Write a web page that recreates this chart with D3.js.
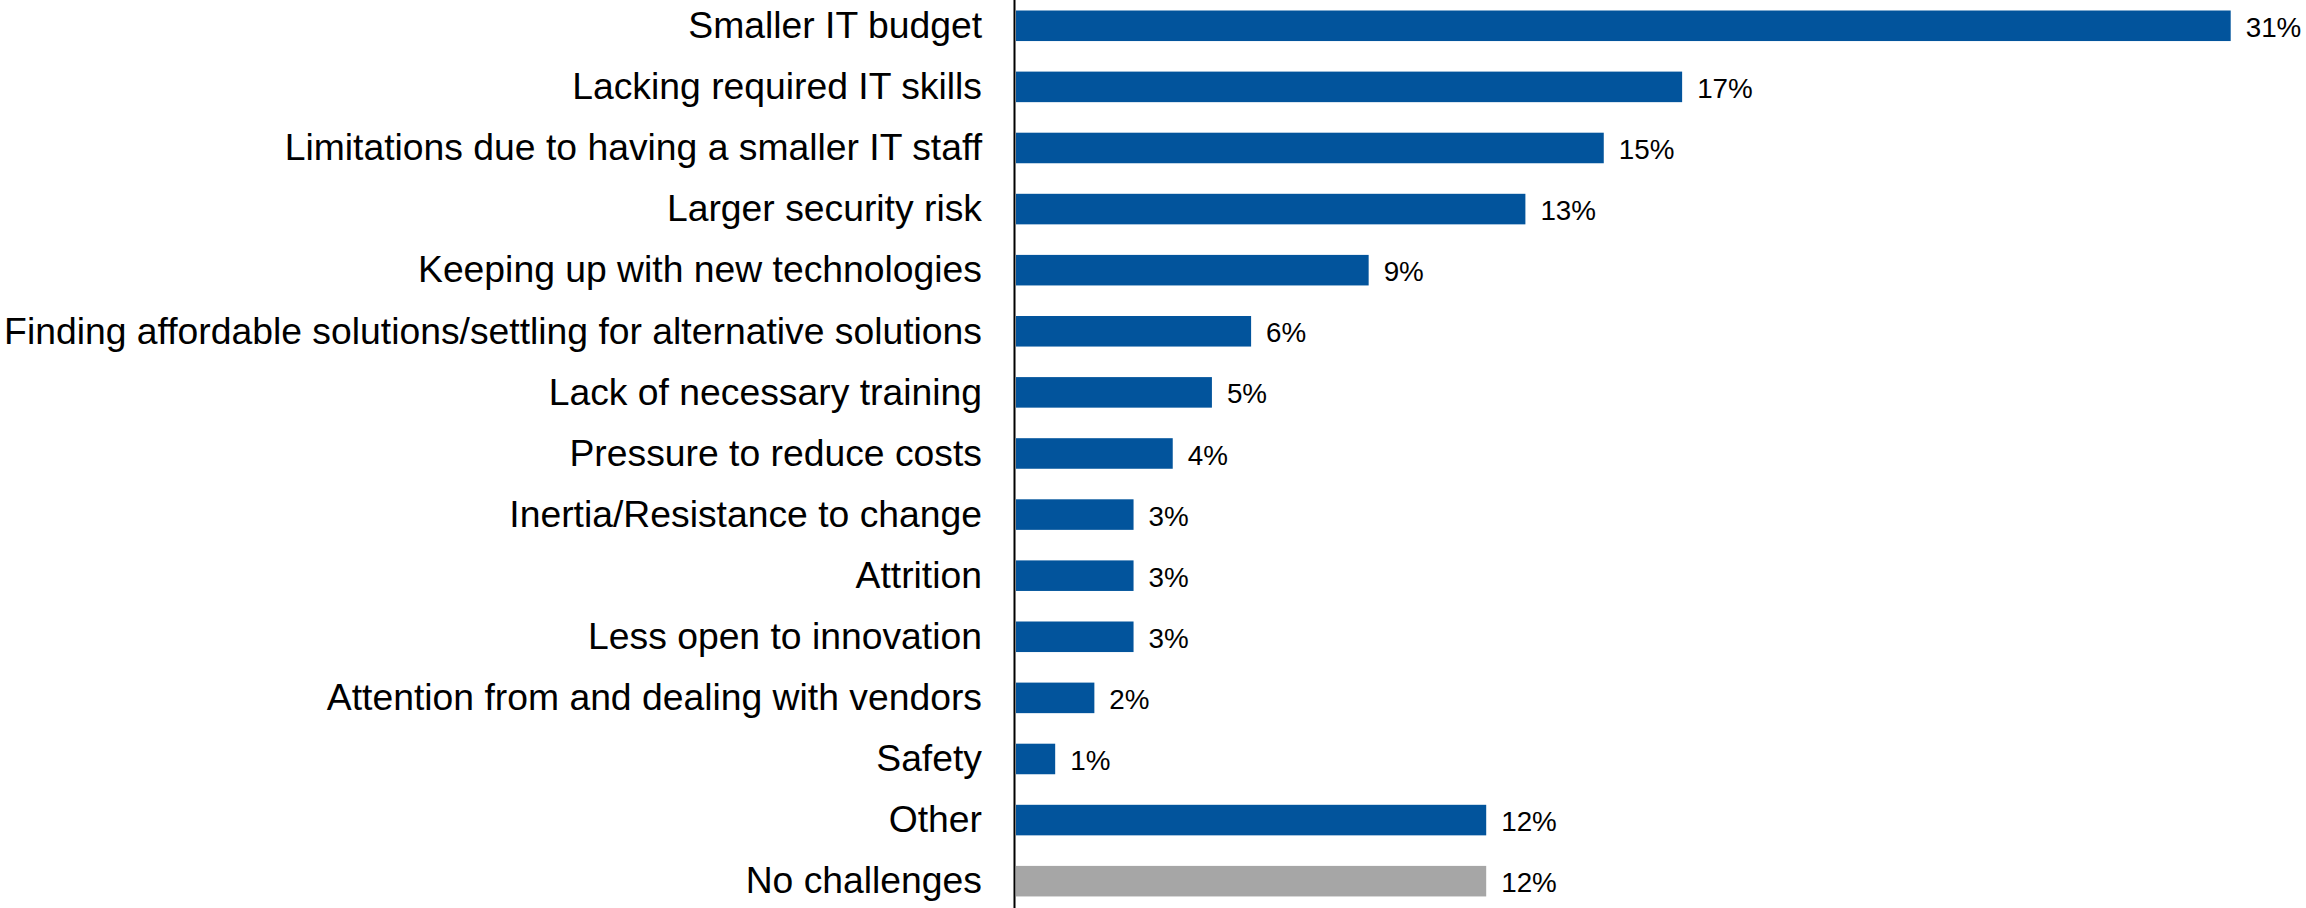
<!DOCTYPE html>
<html>
<head>
<meta charset="utf-8">
<script src="https://cdn.jsdelivr.net/npm/d3@7"></script>
<style>
  html, body { margin: 0; padding: 0; background: #fff; }
  svg { display: block; }
</style>
</head>
<body>
<script>
const categories = [
  "Smaller IT budget",
  "Lacking required IT skills",
  "Limitations due to having a smaller IT staff",
  "Larger security risk",
  "Keeping up with new technologies",
  "Finding affordable solutions/settling for alternative solutions",
  "Lack of necessary training",
  "Pressure to reduce costs",
  "Inertia/Resistance to change",
  "Attrition",
  "Less open to innovation",
  "Attention from and dealing with vendors",
  "Safety",
  "Other",
  "No challenges"
];
const values = [31, 17, 15, 13, 9, 6, 5, 4, 3, 3, 3, 2, 1, 12, 12];
const valueLabels = ["31%", "17%", "15%", "13%", "9%", "6%", "5%", "4%", "3%", "3%", "3%", "2%", "1%", "12%", "12%"];
const highlightGray = ["No challenges"];

const W = 2306, H = 908;
const svg = d3.select("body").append("svg").attr("width", W).attr("height", H);

const step = 61.1;
const y = d3.scaleBand()
  .domain(categories)
  .range([10.5 - 0.25 * step, 10.5 - 0.25 * step + 15 * step])
  .paddingInner(0.5)
  .paddingOuter(0.25);

const x = d3.scaleLinear().domain([0, 31]).range([1016, 2230.7]);

const blue = "#02549C", gray = "#A6A6A6";

svg.selectAll("rect.bar")
  .data(categories)
  .enter().append("rect")
  .attr("class", "bar")
  .attr("x", x(0))
  .attr("y", d => y(d))
  .attr("width", (d, i) => x(values[i]) - x(0))
  .attr("height", y.bandwidth())
  .attr("fill", d => highlightGray.includes(d) ? gray : blue);

// axis line
svg.append("line")
  .attr("x1", 1014.5).attr("x2", 1014.5)
  .attr("y1", 0).attr("y2", H)
  .attr("stroke", "#000").attr("stroke-width", 2);

const catFs = 37.3;
svg.selectAll("text.cat")
  .data(categories)
  .enter().append("text")
  .attr("class", "cat")
  .attr("x", 982)
  .attr("y", d => y(d) + y.bandwidth() / 2 + 0.33 * catFs)
  .attr("text-anchor", "end")
  .attr("font-family", "Liberation Sans, Arial, sans-serif")
  .attr("font-size", catFs)
  .attr("fill", "#000")
  .text(d => d);

const valFs = 27.8;
svg.selectAll("text.val")
  .data(categories)
  .enter().append("text")
  .attr("class", "val")
  .attr("x", (d, i) => x(values[i]) + 15)
  .attr("y", d => y(d) + y.bandwidth() / 2 + 0.4 * valFs)
  .attr("font-family", "Liberation Sans, Arial, sans-serif")
  .attr("font-size", valFs)
  .attr("fill", "#000")
  .text((d, i) => valueLabels[i]);
</script>
</body>
</html>
